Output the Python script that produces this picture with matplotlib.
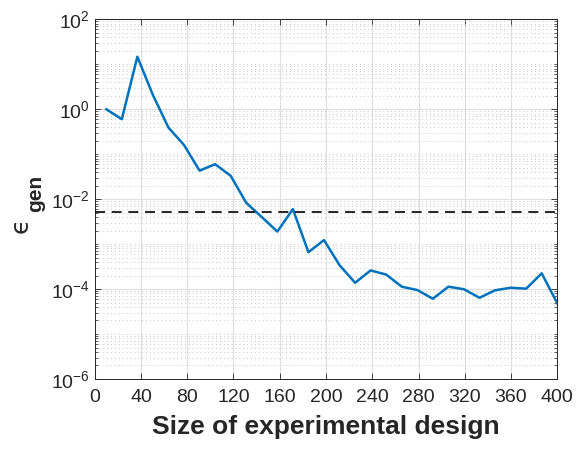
import numpy as np
import matplotlib
matplotlib.use("Agg")
import matplotlib.pyplot as plt
from matplotlib import font_manager
from matplotlib.ticker import LogLocator, FixedLocator, FuncFormatter, NullFormatter

names = {f.name for f in font_manager.fontManager.ttflist}
narrow = 'Liberation Sans Narrow' if 'Liberation Sans Narrow' in names else 'Liberation Sans'

plt.rcParams['font.family'] = [narrow, 'DejaVu Sans']

# design sizes and generalisation error
n_design = np.linspace(10, 400, 30)
eps_gen = [1.0, 0.60, 14.7, 2.07, 0.39, 0.16, 0.043, 0.060, 0.033, 0.0083,
           0.0040, 0.0019, 0.0060, 6.6e-4, 1.23e-3, 3.4e-4, 1.38e-4, 2.6e-4,
           2.1e-4, 1.13e-4, 9.5e-5, 6.1e-5, 1.13e-4, 9.9e-5, 6.4e-5, 9.4e-5,
           1.07e-4, 1.02e-4, 2.24e-4, 4.8e-5]
threshold = 5.1e-3

xticks = np.arange(0, 401, 40)
yticks = [1e-6, 1e-4, 1e-2, 1e0, 1e2]

dark = '#262626'

fig = plt.figure(figsize=(5.76, 4.5), dpi=100)
ax = fig.add_axes([0.1644, 0.1578, 0.8031, 0.7993])

ax.plot(n_design, eps_gen, color='#0072BD', lw=1.8, zorder=3)
ax.axhline(threshold, color='black', lw=1.2, ls=(0, (6, 4)), zorder=3)

ax.set_yscale('log')
ax.set_xlim(0, 400)
ax.set_ylim(1e-6, 1e2)
ax.set_xticks(xticks)
ax.yaxis.set_major_locator(FixedLocator(yticks))
ax.yaxis.set_major_formatter(
    FuncFormatter(lambda v, p: r'$\mathdefault{10^{%d}}$' % round(np.log10(v))))
ax.yaxis.set_minor_locator(LogLocator(base=10, subs=np.arange(1, 10), numticks=20))
ax.yaxis.set_minor_formatter(NullFormatter())

ax.grid(True, which='major', color='#dedede', lw=0.8, ls='-')
ax.grid(True, which='minor', axis='y', color='#c8c8c8', lw=0.7, ls=(0, (1, 3)))
ax.set_axisbelow(True)

ax.tick_params(which='both', direction='in', top=True, right=True, colors=dark,
               labelsize=14)
ax.tick_params(which='major', length=4, width=0.6)
ax.tick_params(which='minor', length=2, width=0.5)
ax.tick_params(axis='x', pad=7)
for s in ax.spines.values():
    s.set_color(dark)
    s.set_linewidth(0.7)

ax.set_xlabel('Size of experimental design', fontsize=19, fontweight='bold',
              color=dark, labelpad=7)

# y label: epsilon with bold subscript
fig.text(21 / 576, 1 - 225 / 450, '\u03f5', rotation=90, fontsize=18,
         family='DejaVu Sans', color=dark, ha='center', va='center')
fig.text(36 / 576, 1 - 193 / 450, 'gen', rotation=90, fontsize=15,
         family='Liberation Sans', fontweight='bold', color=dark,
         ha='center', va='center')

fig.savefig('out.png', dpi=100)
